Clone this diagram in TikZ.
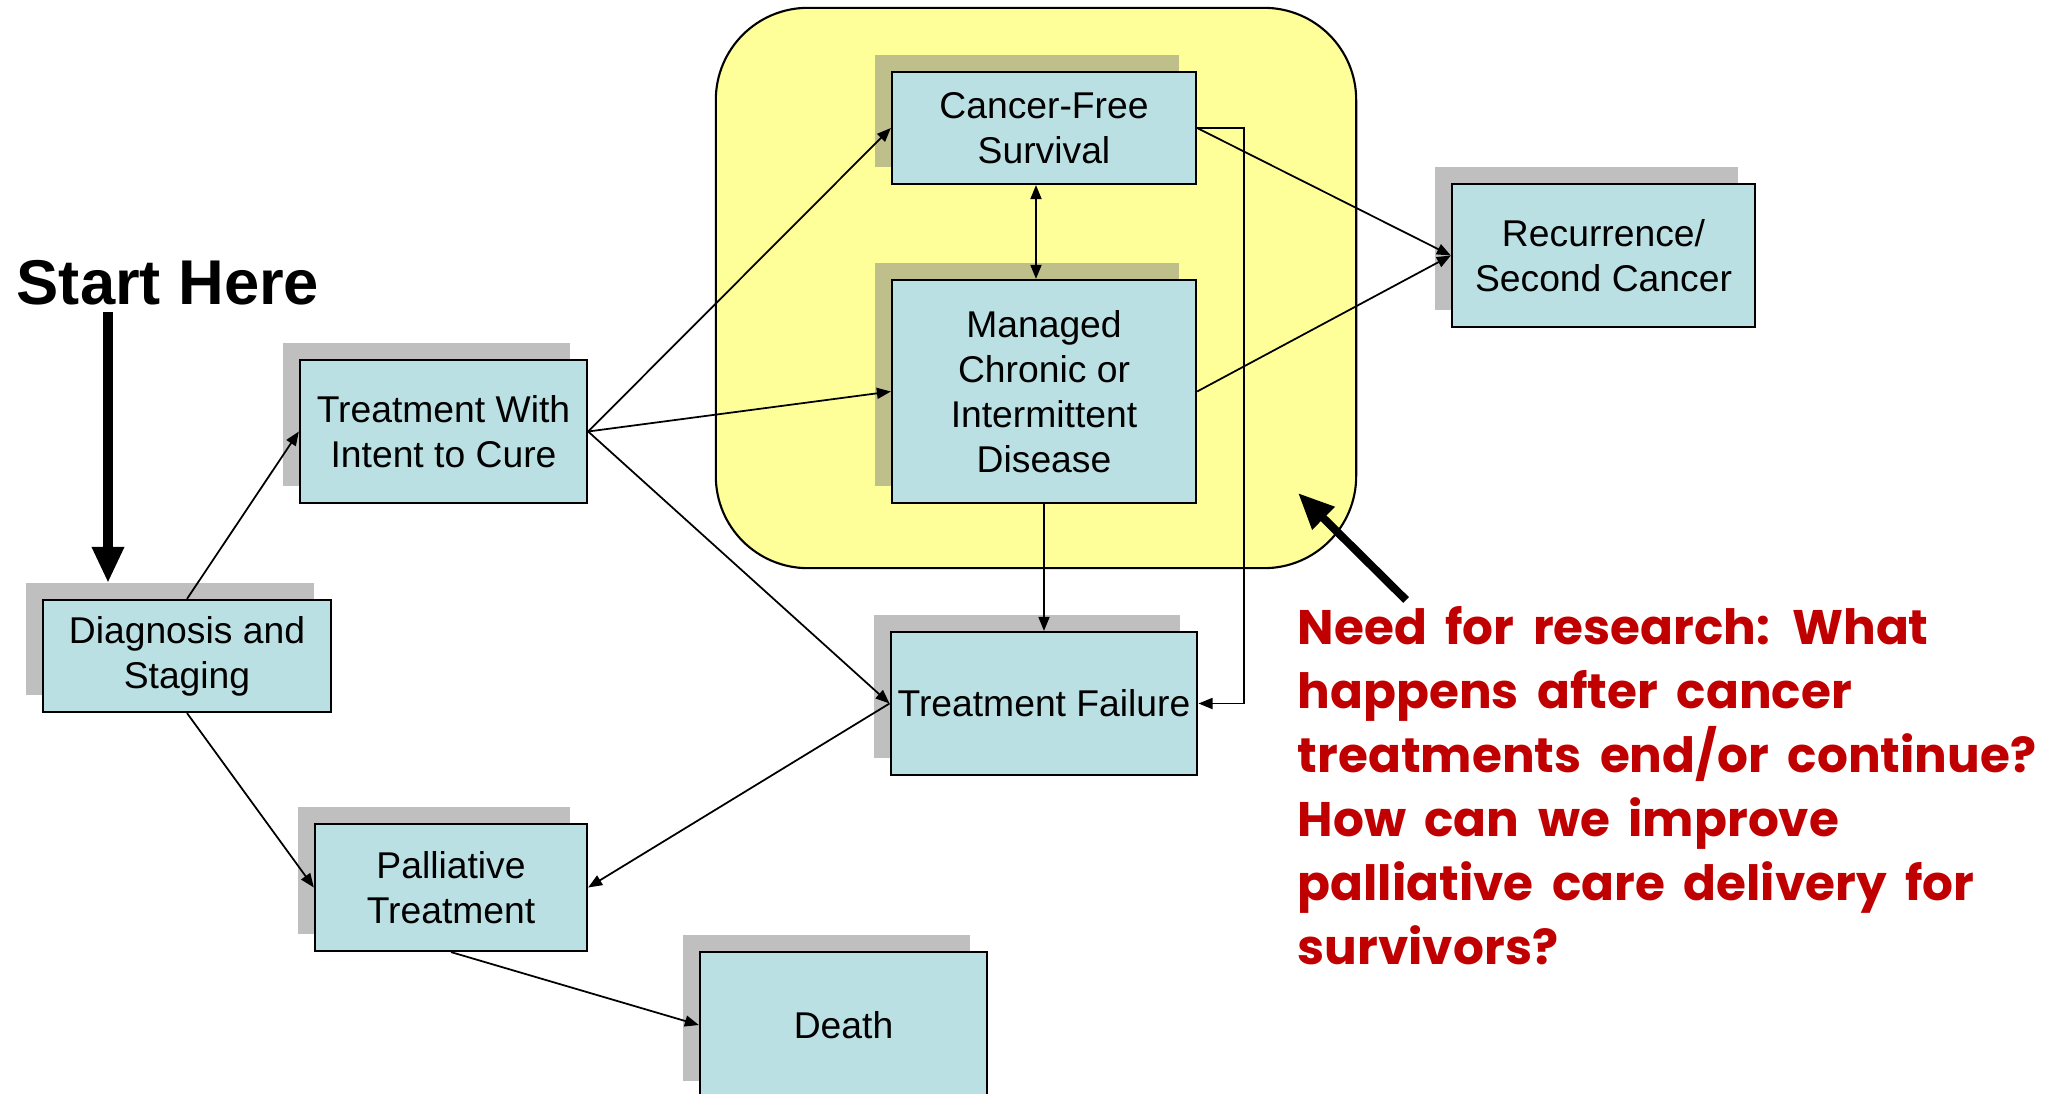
\documentclass[tikz,border=0pt]{standalone}
\usepackage{fontspec}
\setmainfont{Liberation Sans}
\newfontfamily\notefont{Poppins}[WordSpace=1.8]
\usetikzlibrary{arrows.meta,shadows}
\definecolor{boxfill}{RGB}{187,224,227}
\definecolor{zonefill}{RGB}{255,255,153}
\definecolor{notered}{RGB}{192,0,0}

\begin{document}
\begin{tikzpicture}[x=0.01cm,y=-0.01cm,
  stage/.style={draw=black, line width=0.6pt, fill=boxfill, align=center, inner sep=2pt,
    font=\fontsize{10.6}{12.8}\selectfont,
    general shadow={fill=gray, opacity=0.5, shadow xshift=-0.17cm, shadow yshift=0.17cm}},
  link/.style={line width=0.5pt, -{Triangle[length=0.14cm,width=0.11cm]}},
  bigarrow/.style={line width=2.6pt, -{Triangle[length=0.36cm,width=0.3cm]}}
]
\useasboundingbox (0,0) rectangle (2060,1094);
\clip (0,0) rectangle (2060,1094);

% survivorship zone
\node[draw=black, line width=0.6pt, fill=zonefill, rounded corners=0.92cm,
      minimum width=6.40cm, minimum height=5.60cm] (zone) at (1036,288) {};

% stages
\node[stage, minimum width=2.88cm, minimum height=1.12cm] (diag) at (187,656) {Diagnosis and\\Staging};
\node[stage, minimum width=2.87cm, minimum height=1.43cm] (cure) at (443.5,431.5) {Treatment With\\Intent to Cure};
\node[stage, minimum width=3.04cm, minimum height=1.12cm] (cfree) at (1044,128) {Cancer-Free\\Survival};
\node[stage, minimum width=3.04cm, minimum height=2.23cm] (managed) at (1044,391.5) {Managed\\Chronic or\\Intermittent\\Disease};
\node[stage, minimum width=3.03cm, minimum height=1.43cm] (recur) at (1603.5,255.5) {Recurrence/\\Second Cancer};
\node[stage, minimum width=3.04cm, minimum height=1.43cm] (fail) at (1044,703.5) {Treatment Failure};
\node[stage, minimum width=2.72cm, minimum height=1.27cm] (pall) at (451,887.5) {Palliative\\Treatment};
\node[stage, minimum width=2.87cm, minimum height=1.46cm] (death) at (843.5,1025) {Death};

% transitions
\draw[link] (diag.north) -- (cure.west);
\draw[link] (diag.south) -- (pall.west);
\draw[link] (cure.east) -- (cfree.west);
\draw[link] (cure.east) -- (managed.west);
\draw[link] (cure.east) -- (fail.west);
\draw[link, {Triangle[length=0.14cm,width=0.11cm]}-{Triangle[length=0.14cm,width=0.11cm]}]
  ([xshift=-0.08cm]cfree.south) -- ([xshift=-0.08cm]managed.north);
\draw[link] (managed.south) -- (fail.north);
\draw[link] (cfree.east) -- ++(47,0) |- (fail.east);
\draw[link] (cfree.east) -- (recur.west);
\draw[link] (managed.east) -- (recur.west);
\draw[link] (fail.west) -- (pall.east);
\draw[link] (pall.south) -- (death.west);

% entry point
\node[font=\fontsize{18}{22}\selectfont\bfseries, inner sep=0, anchor=west] (start) at (16,283) {Start Here};
\coordinate (starttip) at (108,583);
\draw[bigarrow] ([yshift=-0.06cm]start.south -| starttip) -- (starttip);

% research note
\node[font=\notefont\bfseries\fontsize{13.8}{18.2}\selectfont, text=notered, align=left,
      anchor=north west, inner sep=0] (note) at (1297,606)
  {Need for research: What\\happens after cancer\\treatments end/or continue?\\How can we improve\\palliative care delivery for\\survivors?};
\coordinate (notetip) at (1298,493);
\draw[bigarrow, line width=2.3pt] ([xshift=1.09cm,yshift=0.06cm]note.north west) -- (notetip);
\end{tikzpicture}
\end{document}
